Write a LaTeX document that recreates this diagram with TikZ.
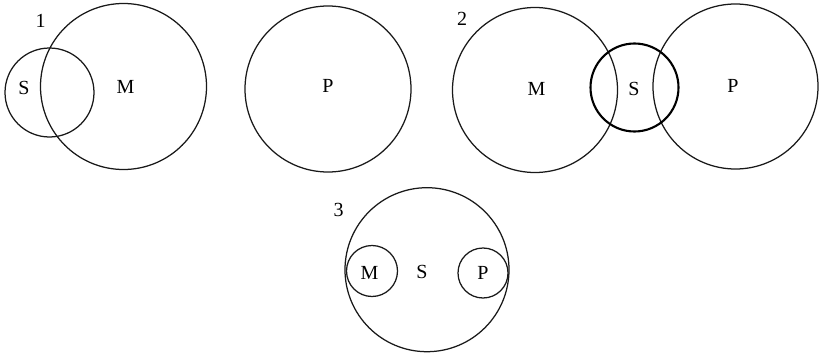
\documentclass[tikz,border=0pt]{standalone}
\usepackage{fontspec}
\setmainfont{Liberation Serif}
\begin{document}
\begin{tikzpicture}[x=1pt,y=-1pt,
  ring/.style={circle,draw=black!90,line width=1.25pt,inner sep=0pt,minimum size=#1},
  thickring/.style={circle,draw=black,line width=2.1pt,inner sep=0pt,minimum size=#1},
  lbl/.style={inner sep=0pt,font=\fontsize{20}{24}\selectfont}]
\useasboundingbox (0,0) rectangle (819,353);
% diagram 1
\node[ring=89pt] (c1s) at (49.5,92.5) {};
\node[ring=166pt] (c1m) at (123.5,86.5) {};
\node[ring=166pt] (c1p) at (328,89) {};
\node[lbl] (n1) at (40.5,21) {1};
\node[lbl] (t1s) at (24,88) {S};
\node[lbl] (t1m) at (125.5,87) {M};
\node[lbl] (t1p) at (328,86) {P};
% diagram 2
\node[ring=165pt] (c2m) at (535,90) {};
\node[ring=165pt] (c2p) at (735.5,86.5) {};
\node[thickring=88pt] (c2s) at (634.5,87.5) {};
\node[lbl] (n2) at (462,18.5) {2};
\node[lbl] (t2m) at (536.5,89) {M};
\node[lbl] (t2s) at (634,89) {S};
\node[lbl] (t2p) at (733,86) {P};
% diagram 3
\node[ring=164pt] (c3s) at (427,269.7) {};
\node[ring=51pt] (c3m) at (372,271) {};
\node[ring=50pt] (c3p) at (483,273) {};
\node[lbl] (n3) at (338.5,210) {3};
\node[lbl] (t3m) at (369.5,272.5) {M};
\node[lbl] (t3s) at (422,272) {S};
\node[lbl] (t3p) at (483,273) {P};
\end{tikzpicture}
\end{document}
